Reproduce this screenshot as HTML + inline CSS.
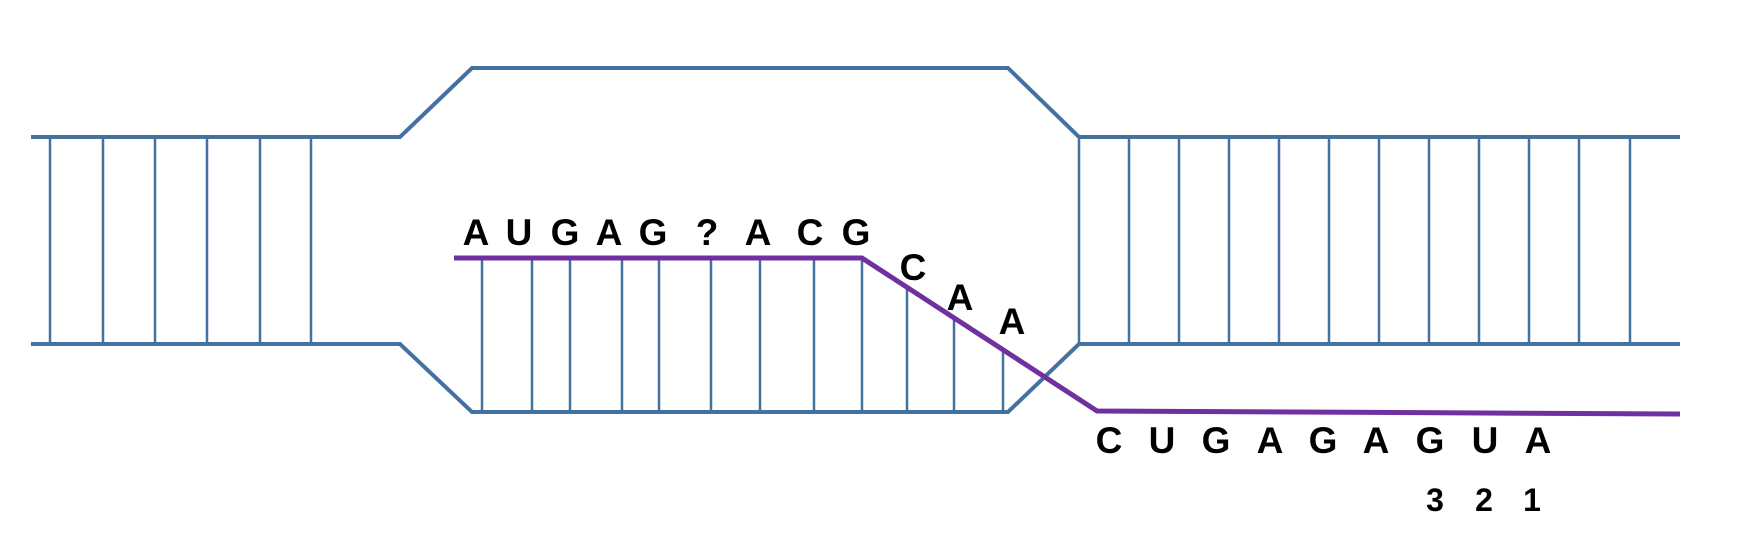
<!DOCTYPE html>
<html><head><style>
html,body{margin:0;padding:0;background:#fff;}
svg{display:block;}
text{font-family:"Liberation Sans",Arial,sans-serif;font-weight:bold;fill:#000;text-anchor:middle;}
</style></head><body>
<svg width="1748" height="542" viewBox="0 0 1748 542" xmlns="http://www.w3.org/2000/svg">
<g stroke="#44719f" fill="none">
<polyline stroke-width="4" points="31,137 400,137 472,68 1008,68 1079,137 1680,137"/>
<polyline stroke-width="4" points="31,344 400,344 472,412 1008,412 1079,344 1680,344"/>
<g stroke-width="2.5">
<line x1="50" y1="137" x2="50" y2="344"/>
<line x1="103" y1="137" x2="103" y2="344"/>
<line x1="155" y1="137" x2="155" y2="344"/>
<line x1="207" y1="137" x2="207" y2="344"/>
<line x1="260" y1="137" x2="260" y2="344"/>
<line x1="311" y1="137" x2="311" y2="344"/>
<line x1="1079" y1="137" x2="1079" y2="344"/>
<line x1="1129" y1="137" x2="1129" y2="344"/>
<line x1="1179" y1="137" x2="1179" y2="344"/>
<line x1="1229" y1="137" x2="1229" y2="344"/>
<line x1="1279" y1="137" x2="1279" y2="344"/>
<line x1="1329" y1="137" x2="1329" y2="344"/>
<line x1="1379" y1="137" x2="1379" y2="344"/>
<line x1="1429" y1="137" x2="1429" y2="344"/>
<line x1="1479" y1="137" x2="1479" y2="344"/>
<line x1="1529" y1="137" x2="1529" y2="344"/>
<line x1="1579" y1="137" x2="1579" y2="344"/>
<line x1="1630" y1="137" x2="1630" y2="344"/>
<line x1="482" y1="258" x2="482" y2="412"/>
<line x1="532" y1="258" x2="532" y2="412"/>
<line x1="570" y1="258" x2="570" y2="412"/>
<line x1="622" y1="258" x2="622" y2="412"/>
<line x1="659" y1="258" x2="659" y2="412"/>
<line x1="711" y1="258" x2="711" y2="412"/>
<line x1="760" y1="258" x2="760" y2="412"/>
<line x1="814" y1="258" x2="814" y2="412"/>
<line x1="862" y1="258" x2="862" y2="412"/>
<line x1="907" y1="287" x2="907" y2="412"/>
<line x1="954" y1="318" x2="954" y2="412"/>
<line x1="1003" y1="350" x2="1003" y2="412"/>
</g>
</g>
<polyline stroke="#7030a0" stroke-width="5" fill="none" points="454,258 862,258 1097,411 1680,414"/>
<g font-size="37">
<text x="476" y="245">A</text>
<text x="519" y="245">U</text>
<text x="565" y="245">G</text>
<text x="609" y="245">A</text>
<text x="653" y="245">G</text>
<text x="707" y="245">?</text>
<text x="758" y="245">A</text>
<text x="810" y="245">C</text>
<text x="856" y="245">G</text>
<text x="913" y="280">C</text>
<text x="960" y="310">A</text>
<text x="1012" y="334">A</text>
<text x="1109" y="453">C</text>
<text x="1162" y="453">U</text>
<text x="1216" y="453">G</text>
<text x="1270" y="453">A</text>
<text x="1323" y="453">G</text>
<text x="1376" y="453">A</text>
<text x="1430" y="453">G</text>
<text x="1485" y="453">U</text>
<text x="1538" y="453">A</text>
</g>
<g font-size="32">
<text x="1435" y="511">3</text>
<text x="1484" y="511">2</text>
<text x="1532" y="511">1</text>
</g>
</svg>
</body></html>
